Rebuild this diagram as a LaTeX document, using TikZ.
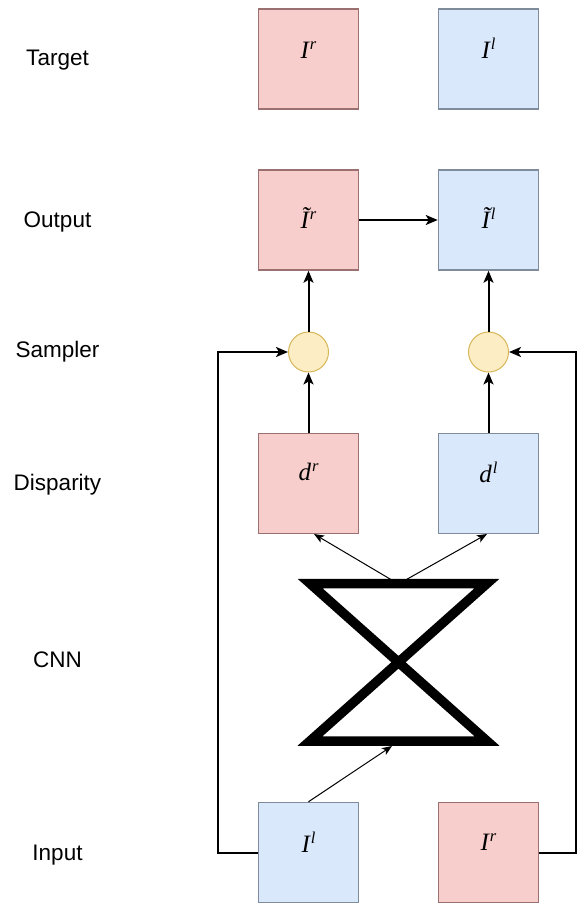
\documentclass[tikz,border=0pt]{standalone}
\usepackage{fontspec}
\setmainfont{Liberation Sans}
\newfontfamily\symfont{Liberation Serif}
\usetikzlibrary{arrows.meta}

\definecolor{redfill}{HTML}{F8CECC}
\definecolor{redline}{HTML}{9A7070}
\definecolor{bluefill}{HTML}{DAE8FC}
\definecolor{blueline}{HTML}{7E8C9C}
\definecolor{samplefill}{HTML}{FDEDC4}
\definecolor{sampleline}{HTML}{D6B656}

% italic symbol with a raised index
\newcommand{\imgsym}[2]{{\symfont\itshape\fontsize{25}{25}\selectfont #1\kern1pt\raisebox{9pt}{\fontsize{16.5}{16.5}\selectfont #2}}}

\begin{document}
\begin{tikzpicture}[x=1pt,y=-1pt,
  rowlab/.style={font=\fontsize{22.5}{22.5}\selectfont, anchor=center},
  redbox/.style={draw=redline, fill=redfill, line width=1.5pt, minimum width=100pt, minimum height=100pt, inner sep=0pt},
  bluebox/.style={draw=blueline, fill=bluefill, line width=1.5pt, minimum width=100pt, minimum height=100pt, inner sep=0pt},
  symtxt/.style={inner sep=0pt, anchor=center},
  sampler/.style={circle, draw=sampleline, fill=samplefill, line width=1pt, minimum size=40pt, inner sep=0pt},
  flow/.style={line width=2pt, -{Stealth[length=12pt,width=10pt,inset=3pt]}},
  thinflow/.style={line width=1pt, -{Stealth[length=10pt,width=8pt,inset=2.5pt]}},
  feedback/.style={line width=2pt, -{Stealth[length=12pt,width=10pt,inset=3pt]}}
]
\useasboundingbox (0,0) rectangle (577,905);

% row labels
\node[rowlab] (labtarget) at (57.5,60) {Target};
\node[rowlab] (laboutput) at (57.5,222) {Output};
\node[rowlab] (labsampler) at (57.5,352) {Sampler};
\node[rowlab] (labdisp) at (57.5,485) {Disparity};
\node[rowlab] (labcnn) at (57.5,660) {CNN};
\node[rowlab] (labinput) at (57.5,855) {Input};

% target images
\node[redbox] (tgr) at (308.5,59) {};
\node[symtxt] (tgrtxt) at (308.5,50) {\imgsym{I}{r}};
\node[bluebox] (tgl) at (488.5,59) {};
\node[symtxt] (tgltxt) at (488.5,48) {\imgsym{I}{l}};

% output images
\node[redbox] (outr) at (308.5,220) {};
\node[symtxt] (outrtxt) at (308.5,218) {\imgsym{\~I}{r}};
\node[bluebox] (outl) at (488.5,220) {};
\node[symtxt] (outltxt) at (488.5,218) {\imgsym{\~I}{l}};

% samplers
\node[sampler] (sr) at (308.5,352) {};
\node[sampler] (sl) at (488.5,352) {};

% disparity maps
\node[redbox] (dr) at (308.5,483.5) {};
\node[symtxt] (drtxt) at (308.5,472) {\imgsym{d}{r}};
\node[bluebox] (dl) at (488.5,483.5) {};
\node[symtxt] (dltxt) at (488.5,472) {\imgsym{d}{l}};

% input images
\node[bluebox] (inl) at (308.5,852.5) {};
\node[symtxt] (inltxt) at (308.5,842) {\imgsym{I}{l}};
\node[redbox] (inr) at (488.5,852.5) {};
\node[symtxt] (inrtxt) at (488.5,842) {\imgsym{I}{r}};

% CNN attachment points
\coordinate (cnntop) at (398.5,584);
\coordinate (cnnin) at (392,746);
\coordinate (drin) at (314,534);
\coordinate (dlin) at (487,534);

% CNN outputs
\draw[thinflow] (cnntop) -- (drin);
\draw[thinflow] (cnntop) -- (dlin);

% CNN hourglass
\draw[line width=9.5pt, line join=miter] (310,583.5) -- (487,583.5) -- (310,741) -- (487,741) -- cycle;

% CNN input
\draw[thinflow] (inl.north) -- (cnnin);

% disparity to samplers, samplers to outputs
\draw[flow] (dr.north) -- (sr.south);
\draw[flow] (dl.north) -- (sl.south);
\draw[flow] (sr.north) -- (outr.south);
\draw[flow] (sl.north) -- (outl.south);
\draw[flow] (outr.east) -- (outl.west);

% images fed to the samplers
\draw[feedback] (inl.west) -- ++(-40,0) |- (sr.west);
\draw[feedback] (inr.east) -- ++(37,0) |- (sl.east);
\end{tikzpicture}
\end{document}
